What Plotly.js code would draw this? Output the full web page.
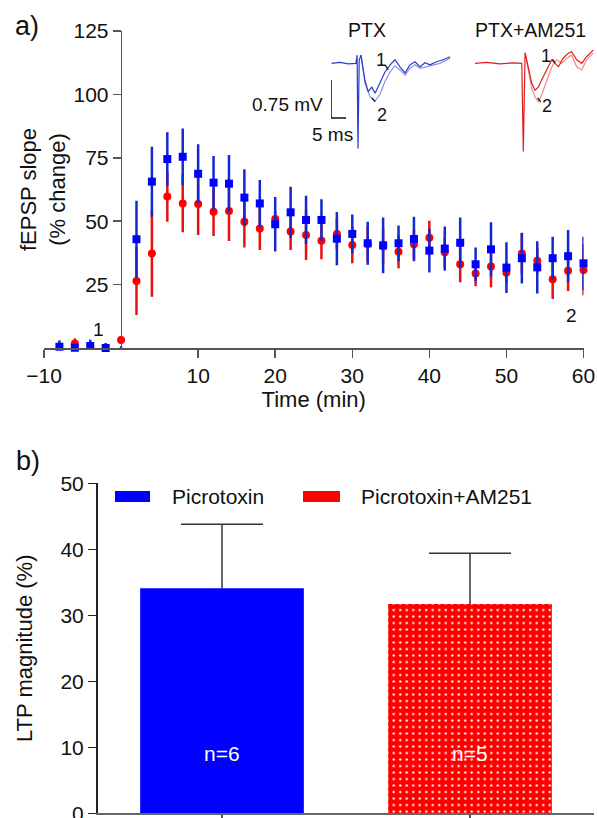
<!DOCTYPE html>
<html>
<head>
<meta charset="utf-8">
<script src="https://cdn.plot.ly/plotly-3.0.1.min.js"></script>
<style>html,body{margin:0;padding:0;background:#fff}#chart{width:597px;height:818px}</style>
</head>
<body>
<div id="chart"></div>
<script>
// ---------- Panel a: time course ----------
const timeMin = [-8,-6,-4,-2,0,2,4,6,8,10,12,14,16,18,20,22,24,26,28,30,32,34,36,38,40,42,44,46,48,50,52,54,56,58,60];
const ptxSlope = [0.5,0.1,0.8,0.0,-0.8,42.9,65.6,74.5,75.4,68.7,65.2,64.8,59.3,57.0,48.8,53.5,50.5,50.5,43.1,45.0,41.3,40.5,41.3,43.0,38.4,39.2,41.5,33.0,38.9,31.7,35.4,31.8,35.4,36.2,33.4];
const ptxSem   = [2.5,1.5,2.5,2.0,1.5,15.2,13.8,10.6,11.2,11.6,10.5,11.3,11.2,9.2,10.7,10.1,9.5,8.2,10.5,7.6,8.5,11.0,7.0,8.8,8.6,8.7,10.0,6.6,10.7,10.0,10.0,10.3,8.5,10.3,10.5];
const amSlope  = [-1.6,1.8,-0.8,-2.1,3.2,26.4,37.3,59.7,57.0,56.8,53.7,54.0,49.8,47.1,50.9,45.9,44.6,42.3,45.0,40.6,41.0,40.0,38.0,40.9,43.5,37.7,33.0,29.4,32.1,29.7,37.3,34.4,27.1,30.5,30.8];
const amSem    = [1.5,2.0,1.5,2.0,1.5,13.4,17.1,9.9,11.4,12.2,9.5,11.8,10.2,8.5,3.0,7.3,9.9,7.3,6.0,7.2,7.0,7.0,6.6,6.0,6.7,6.0,7.1,5.0,8.2,4.0,8.0,5.0,7.8,8.0,10.0];
const timeTicks = [-10,10,20,30,40,50,60];
const slopeTicks = [25,50,75,100,125];

// ---------- Inset traces (ms, mV) ----------
const ptx1Ms = [0.2,3.0,5.8,8.3,8.7,9.0,9.4,10.0,11.3,12.4,13.6,14.7,16.3,18.0,19.7,21.3,23.0,24.7,26.3,28.0,29.7,31.3,33.0,35.2,37.4,39.7];
const ptx1Mv = [0,0.02,-0.01,0,0.16,-1.68,0.07,0.16,-0.33,-0.56,-0.47,-0.59,-0.39,-0.17,-0.03,0.07,-0.07,-0.19,-0.03,0.03,-0.07,0.01,-0.03,0.03,0.07,0.13];
const ptx2Ms = [10.0,11.3,13.0,14.7,16.3,18.0,19.7,21.3,23.0,24.7,26.3,28.0,29.7,31.9,34.1,36.3,39.7];
const ptx2Mv = [0.16,-0.39,-0.66,-0.74,-0.61,-0.36,-0.17,-0.05,-0.13,-0.23,-0.10,-0.03,-0.10,-0.07,-0.03,0,0.10];
const am1Ms = [0,3.9,8.3,12.8,15.6,16.1,16.7,17.8,18.9,20.0,21.1,22.2,23.9,25.6,26.7,27.8,29.4,31.1,32.2,33.9,35.6,37.2,39.4];
const am1Mv = [0,0.02,-0.01,0.01,0,-1.74,0.21,-0.07,-0.39,-0.53,-0.47,-0.33,-0.13,0.07,0,-0.07,0.10,0.20,0.23,0.07,0,0.13,0.26];
const am2Ms = [16.7,17.8,18.9,20.0,21.1,22.2,23.9,25.6,27.2,28.9,30.6,32.2,33.9,35.6,37.2,39.4];
const am2Mv = [0.20,-0.17,-0.49,-0.66,-0.76,-0.63,-0.33,-0.07,0.07,0,0.10,0.16,-0.07,-0.13,0.07,0.20];
const scaleBarMs = [5,0,0];
const scaleBarMv = [-1.08,-1.08,-0.33];

// ---------- Panel b: LTP magnitude ----------
const groups = ['Picrotoxin','Picrotoxin+AM251'];
const ltpMean = [34.1, 31.7];
const ltpSem = [9.7, 7.7];
const nLabels = ['n=6','n=5'];

const W = 597, H = 818;
const X = px => px / W;
const Y = py => 1 - py / H;
const FONT = 'Liberation Sans, Arial, sans-serif';

function barTrace(i, color, pattern) {
  return {x:[groups[i]], y:[ltpMean[i]], type:'bar', xaxis:'x2', yaxis:'y2', width:0.66,
    marker:Object.assign({color:color, line:{width:0}}, pattern ? {pattern:pattern} : {}),
    error_y:{type:'data', symmetric:false, array:[ltpSem[i]], arrayminus:[0], visible:true, color:'#333', thickness:1.5, width:0}};
}

const traces = [
  {x: timeMin, y: amSlope, type:'scatter', mode:'markers', xaxis:'x', yaxis:'y', cliponaxis:false,
   marker:{symbol:'circle', size:8, color:'#ff0000'},
   error_y:{type:'data', array: amSem, visible:true, color:'#e81010', thickness:2.5, width:0}},
  {x: timeMin, y: ptxSlope, type:'scatter', mode:'markers', xaxis:'x', yaxis:'y', cliponaxis:false,
   marker:{symbol:'square', size:8, color:'#0000ff'},
   error_y:{type:'data', array: ptxSem, visible:true, color:'#1428d0', thickness:2.5, width:0}},
  // insets
  {x: ptx2Ms, y: ptx2Mv, type:'scatter', mode:'lines', xaxis:'x3', yaxis:'y3', cliponaxis:false, line:{color:'#8a95e4', width:1.2}},
  {x: ptx1Ms, y: ptx1Mv, type:'scatter', mode:'lines', xaxis:'x3', yaxis:'y3', cliponaxis:false, line:{color:'#2a3cc8', width:1.2}},
  {x: scaleBarMs, y: scaleBarMv, type:'scatter', mode:'lines', xaxis:'x3', yaxis:'y3', cliponaxis:false, line:{color:'#111', width:1.5}},
  {x: am2Ms, y: am2Mv, type:'scatter', mode:'lines', xaxis:'x4', yaxis:'y4', cliponaxis:false, line:{color:'#f08a8a', width:1.2}},
  {x: am1Ms, y: am1Mv, type:'scatter', mode:'lines', xaxis:'x4', yaxis:'y4', cliponaxis:false, line:{color:'#dc1e1e', width:1.2}},
  // bars
  barTrace(0, '#0000ff', null),
  barTrace(1, '#ff0000', {shape:'.', bgcolor:'#ff0000', fgcolor:'#ffffff', fgopacity:1, size:6.5, solidity:0.1, fillmode:'replace'}),
  {x: groups, y: ltpMean.map((m,i) => m + ltpSem[i]), type:'scatter', mode:'markers', xaxis:'x2', yaxis:'y2', cliponaxis:false,
   marker:{symbol:'line-ew', size:58.6, line:{color:'#333', width:1.5}}, hoverinfo:'skip'}
];

const axisCommon = {showgrid:false, zeroline:false, showline:true, ticks:'outside', ticklen:8, tickwidth:1.5,
  tickfont:{size:21, color:'#111'}, ticklabeloverflow:'allow'};

function ann(text, x, y, size, extra) {
  return Object.assign({text:text, xref:'paper', yref:'paper', x:x, y:y, xanchor:'center', yanchor:'middle',
    showarrow:false, font:{size:size}}, extra || {});
}

const layout = {
  width: W, height: H, margin:{l:0,r:0,t:0,b:0}, showlegend:false, barmode:'overlay',
  paper_bgcolor:'#fff', plot_bgcolor:'rgba(0,0,0,0)',
  font:{family: FONT, color:'#111'},
  xaxis: Object.assign({}, axisCommon, {domain:[X(44), X(583.5)], range:[-10,60], anchor:'y',
    linecolor:'#555', linewidth:1.5, tickcolor:'#555', tickvals: timeTicks,
    title:{text:'Time (min)', font:{size:22}, standoff:6}}),
  yaxis: Object.assign({}, axisCommon, {domain:[Y(348), Y(31)], range:[0,125], anchor:'free', position:X(120.7),
    linecolor:'#555', linewidth:1.5, tickcolor:'#555', tickvals: slopeTicks,
    title:{text:'fEPSP slope<br>(% change)', font:{size:22}, standoff:0}}),
  xaxis2: Object.assign({}, axisCommon, {domain:[X(98), X(594)], range:[-0.5,1.5], anchor:'y2', type:'category',
    linecolor:'#666', linewidth:2, tickcolor:'#555', showticklabels:false}),
  yaxis2: Object.assign({}, axisCommon, {domain:[Y(813.3), Y(483.3)], range:[0,50], anchor:'x2', dtick:10,
    linecolor:'#222', linewidth:2, tickcolor:'#222',
    title:{text:'LTP magnitude (%)', font:{size:22}, standoff:22}}),
  xaxis3: {domain:[X(331), X(451)], range:[0,40], anchor:'y3', visible:false},
  yaxis3: {domain:[Y(154.6), Y(48.1)], range:[-1.8,0.3], anchor:'x3', visible:false},
  xaxis4: {domain:[X(475), 1], range:[0,40.67], anchor:'y4', visible:false},
  yaxis4: {domain:[Y(154.6), Y(48.1)], range:[-1.8,0.3], anchor:'x4', visible:false},
  shapes: [
    {type:'rect', xref:'paper', yref:'paper', x0:X(115), x1:X(150), y0:Y(502), y1:Y(491), fillcolor:'#0000ff', line:{width:0}},
    {type:'rect', xref:'paper', yref:'paper', x0:X(303), x1:X(340), y0:Y(502), y1:Y(491), fillcolor:'#ff0000', line:{width:0}},
    {type:'line', xref:'x3', yref:'y3', x0:18.0, y0:-0.03, x1:19.1, y1:-0.13, line:{color:'#111', width:1.2}},
    {type:'line', xref:'x3', yref:'y3', x0:13.6, y0:-0.68, x1:14.7, y1:-0.76, line:{color:'#111', width:1.2}},
    {type:'line', xref:'x4', yref:'y4', x0:25.8, y0:0.08, x1:26.7, y1:0.01, line:{color:'#111', width:1.2}},
    {type:'line', xref:'x4', yref:'y4', x0:20.9, y0:-0.68, x1:21.9, y1:-0.76, line:{color:'#111', width:1.2}}
  ],
  annotations: [
    ann('a)', X(27), Y(26), 27),
    ann('b)', X(28), Y(461), 27),
    ann('PTX', X(367), Y(30), 19.5),
    ann('PTX+AM251', X(530), Y(30), 19.5),
    ann('0.75 mV', X(325), Y(104), 19, {xanchor:'right'}),
    ann('5 ms', X(332), Y(135), 19),
    ann('1', 16.7, 0.07, 18, {xref:'x3', yref:'y3'}),
    ann('2', 16.9, -1.02, 18, {xref:'x3', yref:'y3'}),
    ann('1', 23.7, 0.14, 18, {xref:'x4', yref:'y4'}),
    ann('2', 24.1, -0.84, 18, {xref:'x4', yref:'y4'}),
    ann('1', -2.9, 7.3, 19, {xref:'x', yref:'y'}),
    ann('2', 58.5, 13, 19, {xref:'x', yref:'y'}),
    ann(nLabels[0], groups[0], 9, 21, {xref:'x2', yref:'y2', font:{size:21, color:'#fff'}}),
    ann(nLabels[1], groups[1], 9, 21, {xref:'x2', yref:'y2', font:{size:21, color:'#fff'}}),
    ann(groups[0], X(170), Y(496), 21, {xanchor:'left'}),
    ann(groups[1], X(359), Y(496), 21, {xanchor:'left'})
  ]
};

Plotly.newPlot('chart', traces, layout, {displayModeBar:false, staticPlot:true});
</script>
</body>
</html>
